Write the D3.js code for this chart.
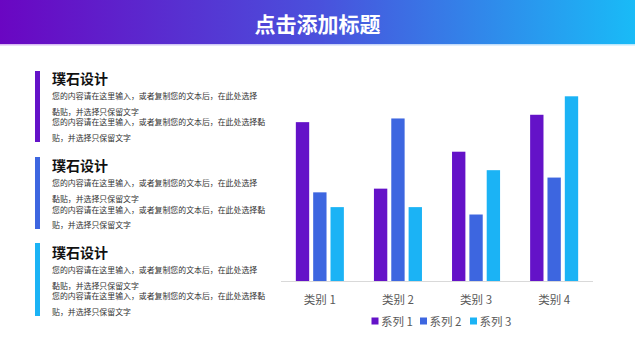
<!DOCTYPE html>
<html><head><meta charset="utf-8">
<script src="https://cdn.jsdelivr.net/npm/d3@7"></script>
<style>
html,body{margin:0;padding:0;background:#fff;}
svg{display:block;font-family:"Noto Sans CJK SC","Noto Sans",sans-serif;}
</style></head>
<body>
<script>
const title = "点击添加标题";
const categories = ["类别 1","类别 2","类别 3","类别 4"];
const seriesNames = ["系列 1","系列 2","系列 3"];
const series1 = [4.3, 2.5, 3.5, 4.5];
const series2 = [2.4, 4.4, 1.8, 2.8];
const series3 = [2, 2, 3, 5];
const seriesColors = ["#6412c8","#3d66e0","#1bb3f5"];
const panelTitles = ["璞石设计","璞石设计","璞石设计"];
const panelLines = [
  "您的内容请在这里输入，或者复制您的文本后，在此处选择",
  "黏贴，并选择只保留文字",
  "您的内容请在这里输入，或者复制您的文本后，在此处选择黏",
  "贴，并选择只保留文字"
];

const W = 635, H = 358;
const svg = d3.select("body").append("svg").attr("width", W).attr("height", H);

// header gradient
const defs = svg.append("defs");
const g = defs.append("linearGradient").attr("id","hdr").attr("x1","0").attr("x2","1").attr("y1","0").attr("y2","0");
g.append("stop").attr("offset","0%").attr("stop-color","#6a06c2");
g.append("stop").attr("offset","50%").attr("stop-color","#4a50dc");
g.append("stop").attr("offset","100%").attr("stop-color","#19bbf7");
const g2 = defs.append("linearGradient").attr("id","hdr2").attr("x1","0").attr("x2","1");
g2.append("stop").attr("offset","0%").attr("stop-color","#d9b8f2");
g2.append("stop").attr("offset","100%").attr("stop-color","#b9e8fc");
svg.append("rect").attr("x",0).attr("y",0).attr("width",W).attr("height",44).attr("fill","url(#hdr)");
svg.append("rect").attr("x",0).attr("y",44).attr("width",W).attr("height",1.5).attr("fill","url(#hdr2)");
svg.append("text").attr("x",W/2).attr("y",22.5).attr("text-anchor","middle").attr("dominant-baseline","central")
  .attr("fill","#fff").attr("font-size",21).attr("font-weight","bold").text(title);

// left panels
const panelTop = [71, 157, 243];
const panelBottom = [142, 229, 316];
const titleY = [77.5, 165, 251.5];
const lineOff = [17.5, 33.5, 44, 59.5];
panelTitles.forEach((t,i)=>{
  svg.append("rect").attr("x",35).attr("y",panelTop[i]).attr("width",5)
    .attr("height",panelBottom[i]-panelTop[i]).attr("fill",seriesColors[i]);
  svg.append("text").attr("x",52).attr("y",titleY[i]).attr("dominant-baseline","central")
    .attr("font-size",14).attr("font-weight","bold").attr("fill","#111").text(t);
  panelLines.forEach((l,j)=>{
    svg.append("text").attr("x",52).attr("y",titleY[i]+lineOff[j]).attr("dominant-baseline","central")
      .attr("font-size",7.9).attr("fill","#333").text(l);
  });
});

// chart
const x0 = d3.scaleBand().domain(categories).range([281,593]).paddingInner(0.385).paddingOuter(0.19);
const x1 = d3.scaleBand().domain(seriesNames).range([0,x0.bandwidth()]).paddingInner(0.23);
const y = d3.scaleLinear().domain([0,5]).range([281,96.3]);
const allSeries = [series1, series2, series3];

svg.append("line").attr("x1",281).attr("x2",593).attr("y1",281.5).attr("y2",281.5)
  .attr("stroke","#d9d9d9").attr("stroke-width",1);

categories.forEach((c,ci)=>{
  allSeries.forEach((s,si)=>{
    svg.append("rect").attr("x",x0(c)+x1(seriesNames[si])).attr("y",y(s[ci]))
      .attr("width",x1.bandwidth()).attr("height",y(0)-y(s[ci])).attr("fill",seriesColors[si]);
  });
  svg.append("text").attr("x",x0(c)+x0.bandwidth()/2).attr("y",299).attr("text-anchor","middle")
    .attr("dominant-baseline","central").attr("font-size",11.5).attr("fill","#595959").text(c);
});

// legend
const legX = [371.5, 420, 470];
seriesNames.forEach((n,i)=>{
  svg.append("rect").attr("x",legX[i]).attr("y",317.5).attr("width",7).attr("height",7).attr("fill",seriesColors[i]);
  svg.append("text").attr("x",legX[i]+9.5).attr("y",321).attr("dominant-baseline","central")
    .attr("font-size",11.5).attr("fill","#595959").text(n);
});
</script>
</body></html>
